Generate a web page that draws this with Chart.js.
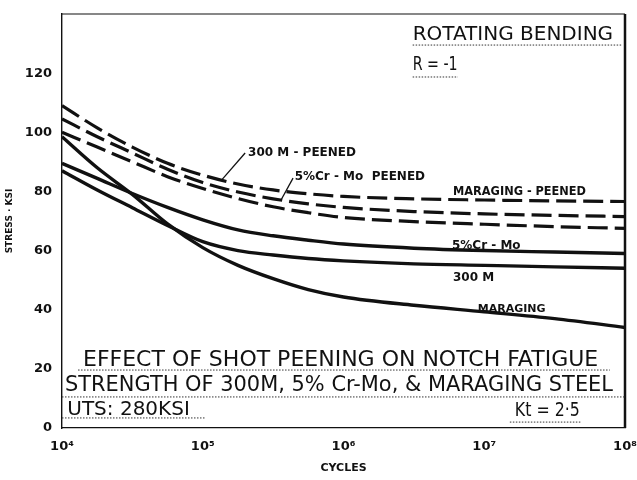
<!DOCTYPE html>
<html>
<head>
<meta charset="utf-8">
<title>Effect of shot peening on notch fatigue</title>
<script src="https://cdn.jsdelivr.net/npm/chart.js@4.4.1/dist/chart.umd.min.js"></script>
<style>
  html, body { margin: 0; padding: 0; background: #fff; }
  #wrap { width: 637px; height: 480px; }
</style>
</head>
<body>
<div id="wrap"><canvas id="fatigueChart" width="637" height="480"></canvas></div>
<script>
// cycles to failure (log axis), read at quarter / half decades
const cycles = [1e4, 1.78e4, 3.16e4, 5.62e4, 1e5, 1.78e5, 3.16e5, 5.62e5, 1e6, 3.16e6, 1e7, 3.16e7, 1e8];

// stress, ksi
const peened300M   = [109, 101.5, 95, 89.5, 85.5, 82.5, 80.5, 79.2, 78.3, 77.5, 77.1, 76.8, 76.6];
const peenedCrMo   = [104.5, 98.5, 93, 87.5, 83, 79.8, 77.5, 75.8, 74.6, 73.2, 72.4, 71.9, 71.5];
const peenedMarag  = [100, 95, 90, 85, 81, 77.6, 74.8, 72.8, 71.2, 69.8, 68.9, 68.1, 67.5];
const plainCrMo    = [89.5, 84.4, 79.3, 74.6, 70.4, 67, 65, 63.5, 62.2, 60.8, 60, 59.5, 59];
const plain300M    = [87, 80.5, 74.5, 68.5, 63, 60, 58.5, 57.3, 56.5, 55.5, 55, 54.5, 54];
const plainMarag   = [98.5, 88, 79, 69, 61, 55, 50.5, 46.8, 44.3, 41.5, 39.3, 37, 34];

const xTicks = [1e4, 1e5, 1e6, 1e7, 1e8];
const xTickLabels = ["10⁴", "10⁵", "10⁶", "10⁷", "10⁸"];
const yTicks = [0, 20, 40, 60, 80, 100, 120];

const ink = "#111";
const letterFont = "DejaVu Sans";

// text placed in data units (cycles, ksi), left aligned
const notes = [
  { text: "ROTATING BENDING", x: 3.1e6, y: 132.9, size: 20, weight: "normal", fit: 207 },
  { text: "R = -1", x: 3.1e6, y: 122.9, size: 20, weight: "normal", fit: 45 },
  { text: "300 M - PEENED", x: 2.1e5, y: 93.0, size: 12, weight: "bold", fit: 112 },
  { text: "5%Cr - Mo  PEENED", x: 4.5e5, y: 84.9, size: 12, weight: "bold", fit: 135 },
  { text: "MARAGING - PEENED", x: 6.0e6, y: 79.8, size: 12, weight: "bold", fit: 133 },
  { text: "5%Cr - Mo", x: 5.9e6, y: 61.5, size: 12, weight: "bold", fit: 76 },
  { text: "300 M", x: 6.0e6, y: 50.7, size: 12, weight: "bold", fit: 45 },
  { text: "MARAGING", x: 9.0e6, y: 40.2, size: 11, weight: "bold", fit: 70 },
  { text: "EFFECT OF SHOT PEENING ON NOTCH FATIGUE", x: 1.41e4, y: 23.0, size: 22, weight: "normal", fit: 520 },
  { text: "STRENGTH OF 300M, 5% Cr-Mo, & MARAGING STEEL", x: 1.05e4, y: 14.4, size: 21, weight: "normal", fit: 548 },
  { text: "UTS: 280KSI", x: 1.09e4, y: 6.1, size: 20, weight: "normal", fit: 125 },
  { text: "Kt = 2·5", x: 1.65e7, y: 5.7, size: 19, weight: "normal", fit: 65 },
];

const leaders = [
  { from: [2.0e5, 93.0], to: [1.37e5, 84.0] },
  { from: [4.38e5, 84.5], to: [3.6e5, 77.1] },
];

const rules = [
  { x0: 3.1e6, x1: 9.5e7, y: 129.5 },
  { x0: 3.1e6, x1: 6.5e6, y: 118.7 },
  { x0: 1.3e4, x1: 7.8e7, y: 19.6 },
  { x0: 1e4, x1: 1e8, y: 10.5 },
  { x0: 1e4, x1: 1.04e5, y: 3.4 },
  { x0: 1.52e7, x1: 4.9e7, y: 2.0 },
];

const chartNotes = {
  id: "chartNotes",
  afterDraw(chart) {
    const { ctx, chartArea, scales } = chart;
    const px = (v) => scales.x.getPixelForValue(v);
    const py = (v) => scales.y.getPixelForValue(v);
    ctx.save();
    ctx.strokeStyle = ink;
    ctx.fillStyle = ink;

    // frame: thin top, heavy right
    ctx.lineWidth = 1.2;
    ctx.beginPath();
    ctx.moveTo(chartArea.left, chartArea.top);
    ctx.lineTo(chartArea.right, chartArea.top);
    ctx.stroke();
    ctx.lineWidth = 2.5;
    ctx.beginPath();
    ctx.moveTo(chartArea.right, chartArea.top);
    ctx.lineTo(chartArea.right, chartArea.bottom);
    ctx.stroke();

    ctx.lineWidth = 1.3;
    leaders.forEach((l) => {
      ctx.beginPath();
      ctx.moveTo(px(l.from[0]), py(l.from[1]));
      ctx.lineTo(px(l.to[0]), py(l.to[1]));
      ctx.stroke();
    });

    ctx.lineWidth = 1;
    ctx.setLineDash([1.5, 1.5]);
    ctx.strokeStyle = "#333";
    rules.forEach((r) => {
      ctx.beginPath();
      ctx.moveTo(px(r.x0), py(r.y));
      ctx.lineTo(px(r.x1), py(r.y));
      ctx.stroke();
    });
    ctx.setLineDash([]);

    ctx.textAlign = "left";
    ctx.textBaseline = "middle";
    notes.forEach((n) => {
      ctx.font = `${n.weight} ${n.size}px "${letterFont}"`;
      ctx.fillText(n.text, px(n.x), py(n.y), n.fit);
    });
    ctx.restore();
  },
};

function series(label, values, dashed) {
  return {
    label,
    data: cycles.map((c, i) => ({ x: c, y: values[i] })),
    borderColor: ink,
    borderWidth: dashed ? 3.2 : 3.4,
    borderDash: dashed ? [20, 7] : [],
    borderCapStyle: "butt",
    pointRadius: 0,
    cubicInterpolationMode: "monotone",
    fill: false,
  };
}

new Chart(document.getElementById("fatigueChart"), {
  type: "line",
  data: {
    datasets: [
      series("300 M - peened", peened300M, true),
      series("5% Cr-Mo peened", peenedCrMo, true),
      series("Maraging - peened", peenedMarag, true),
      series("5% Cr-Mo", plainCrMo, false),
      series("300 M", plain300M, false),
      series("Maraging", plainMarag, false),
    ],
  },
  options: {
    responsive: false,
    animation: false,
    layout: { padding: { top: 14, right: 12, left: 0, bottom: 0 } },
    plugins: {
      legend: { display: false },
      tooltip: { enabled: false },
    },
    scales: {
      x: {
        type: "logarithmic",
        min: 1e4,
        max: 1e8,
        afterBuildTicks: (scale) => {
          scale.ticks = xTicks.map((v) => ({ value: v }));
        },
        afterFit: (scale) => {
          // let the last label hang past the frame, as in the print
          scale.height = 52;
          scale.paddingLeft = 0;
          scale.paddingRight = 0;
        },
        grid: { display: false, drawTicks: false },
        border: { display: true, color: ink, width: 1.2 },
        ticks: {
          autoSkip: false,
          maxRotation: 0,
          padding: 11,
          color: ink,
          font: { family: letterFont, size: 13, weight: "bold" },
          callback: (value, index) => xTickLabels[index],
        },
        title: {
          display: true,
          text: "CYCLES",
          color: ink,
          font: { family: letterFont, size: 11, weight: "bold" },
          padding: { top: 0, bottom: 5 },
        },
      },
      y: {
        min: 0,
        max: 140,
        afterBuildTicks: (scale) => {
          scale.ticks = yTicks.map((v) => ({ value: v }));
        },
        afterFit: (scale) => {
          scale.width = 62;
          scale.paddingTop = 0;
          scale.paddingBottom = 0;
        },
        grid: { display: false, drawTicks: false },
        border: { display: true, color: ink, width: 1.4 },
        ticks: {
          padding: 10,
          color: ink,
          font: { family: letterFont, size: 13, weight: "bold" },
        },
        title: {
          display: true,
          text: "STRESS · KSI",
          color: ink,
          font: { family: letterFont, size: 9, weight: "bold" },
          padding: { top: 4, bottom: 0 },
        },
      },
    },
  },
  plugins: [chartNotes],
});
</script>
</body>
</html>
